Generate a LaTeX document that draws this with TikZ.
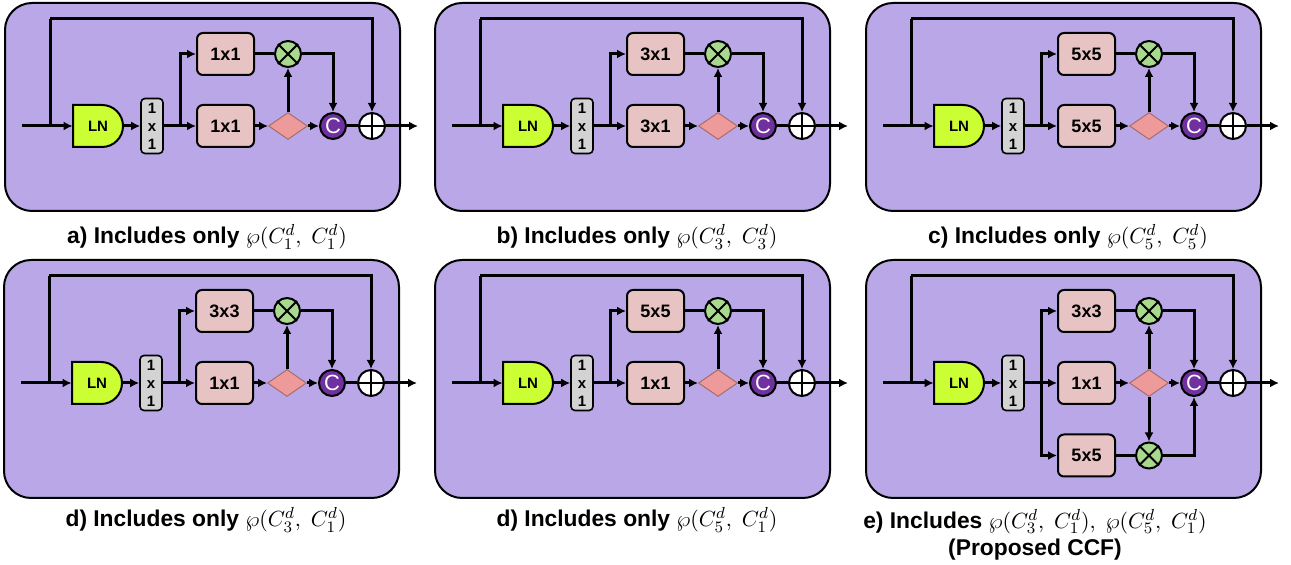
\documentclass[tikz,border=0pt]{standalone}
\usepackage{fontspec}
\setsansfont{Liberation Sans}
\usepackage{tikz}
\usetikzlibrary{arrows.meta, positioning, calc, shapes.geometric}

\definecolor{panelbg}{HTML}{B9A7E8}
\definecolor{lngreen}{HTML}{CCFF33}
\definecolor{convpink}{HTML}{E8C3C3}
\definecolor{mulgreen}{HTML}{A9D98F}
\definecolor{gatered}{HTML}{EE9A9A}
\definecolor{catpurple}{HTML}{7030A0}
\definecolor{projgray}{HTML}{D3D3D3}

\begin{document}
\begin{tikzpicture}[x=0.5pt, y=0.5pt,
  panel/.style={draw=black, line width=1pt, fill=panelbg, rounded corners=13.5pt},
  conv/.style={draw=black, line width=1pt, fill=convpink, rounded corners=3pt, minimum width=28.5pt, minimum height=21pt, inner sep=0pt, font=\sffamily\bfseries\fontsize{9}{10.8}\selectfont},
  proj/.style={draw=black, line width=0.8pt, fill=projgray, rounded corners=2pt, minimum width=11pt, minimum height=27.5pt, inner sep=0pt, align=center, font=\sffamily\bfseries\fontsize{7.5}{9}\selectfont},
  lnshape/.style={draw=black, line width=1pt, fill=lngreen},
  lnbox/.style={minimum width=25pt, minimum height=21pt, inner sep=0pt, font=\sffamily\bfseries\fontsize{7.5}{9}\selectfont},
  mul/.style={circle, draw=black, line width=1pt, fill=mulgreen, minimum size=13pt, inner sep=0pt},
  addop/.style={circle, draw=black, line width=1pt, fill=white, minimum size=13pt, inner sep=0pt},
  cat/.style={circle, draw=black, line width=1pt, fill=catpurple, minimum size=13pt, inner sep=0pt, text=white, font=\sffamily\fontsize{11}{11}\selectfont},
  gate/.style={diamond, draw=gatered!70!black, line width=0.5pt, fill=gatered, minimum width=19.5pt, minimum height=13.5pt, inner sep=0pt},
  wire/.style={line width=1.5pt},
  arr/.style={wire, -{Latex[length=4.5pt,width=4.5pt]}},
  caption/.style={align=center, font=\sffamily\bfseries\fontsize{11.4}{13.6}\selectfont}
]
  \useasboundingbox (0,0) rectangle (1291,-565);
  \foreach \p/\x/\y/\h/\ta/\tb in {a/5/3/208/1x1/1x1, b/435/3/208/3x1/3x1, c/866/3/208/5x5/5x5,
                                    d/4/260/238/3x3/1x1, d2/435/260/238/5x5/1x1, e/866/260/238/3x3/1x1} {
    \begin{scope}[shift={(\x,-\y)}]
      \draw[panel] (0,0) rectangle (395,-\h);
      \coordinate (\p-in) at (17,-123);
      \coordinate (\p-sk) at (45,-123);
      \coordinate (\p-tp) at (45,-16);
      \coordinate (\p-br) at (175,-123);
      \coordinate (\p-out) at (413,-123);
      \draw[lnshape] (68,-102) -- ++(29,0) arc[start angle=90, end angle=-90, radius=21] -- (68,-144) -- cycle;
      \node[lnbox] (\p-ln) at (93,-123) {LN};
      \node[proj] (\p-pj) at (147,-123) {1\\x\\1};
      \node[conv] (\p-ct) at (220.5,-51) {\ta};
      \node[conv] (\p-cb) at (220.5,-123) {\tb};
      \node[mul] (\p-mul) at (283,-51) {};
      \draw[line width=1pt] (\p-mul.north west) -- (\p-mul.south east) (\p-mul.north east) -- (\p-mul.south west);
      \node[gate] (\p-gt) at (283,-123) {};
      \node[cat] (\p-cat) at (328,-123) {C};
      \node[addop] (\p-add) at (367,-123) {};
      \draw[line width=1pt] (\p-add.north) -- (\p-add.south) (\p-add.west) -- (\p-add.east);
      % connectors
      \draw[arr] (\p-in) -- (\p-ln);
      \draw[wire] (\p-sk) -- (\p-tp);
      \draw[arr] (\p-tp) -| (\p-add);
      \draw[arr] (\p-ln) -- (\p-pj);
      \draw[arr] (\p-pj) -- (\p-cb);
      \draw[arr] (\p-br) |- (\p-ct);
      \draw[wire] (\p-ct) -- (\p-mul);
      \draw[arr] (\p-mul) -| (\p-cat);
      \draw[arr] (\p-cb) -- (\p-gt);
      \draw[arr] (\p-gt) -- (\p-mul);
      \draw[arr] (\p-gt) -- (\p-cat);
      \draw[wire] (\p-cat) -- (\p-add);
      \draw[arr] (\p-add) -- (\p-out);
    \end{scope}
  }
  % third branch of the proposed block
  \begin{scope}[shift={(866,-260)}]
    \node[conv] (e-cl) at (220.5,-195.5) {5x5};
    \node[mul] (e-mull) at (283,-195.5) {};
    \draw[line width=1pt] (e-mull.north west) -- (e-mull.south east) (e-mull.north east) -- (e-mull.south west);
    \draw[arr] (e-br) |- (e-cl);
    \draw[wire] (e-cl) -- (e-mull);
    \draw[arr] (e-gt) -- (e-mull);
    \draw[arr] (e-mull) -| (e-cat);
  \end{scope}
  % captions
  \node[caption] (cap-a) at (207,-237) {a) Includes only $\wp(C_1^d,\ C_1^d)$};
  \node[caption] (cap-b) at (637,-237) {b) Includes only $\wp(C_3^d,\ C_3^d)$};
  \node[caption] (cap-c) at (1068,-237) {c) Includes only $\wp(C_5^d,\ C_5^d)$};
  \node[caption] (cap-d) at (206,-520) {d) Includes only $\wp(C_3^d,\ C_1^d)$};
  \node[caption] (cap-d2) at (637,-520) {d) Includes only $\wp(C_5^d,\ C_1^d)$};
  \node[caption] (cap-e) at (1035,-534.5) {e) Includes $\wp(C_3^d,\ C_1^d),\ \wp(C_5^d,\ C_1^d)$\\(Proposed CCF)};
\end{tikzpicture}
\end{document}
